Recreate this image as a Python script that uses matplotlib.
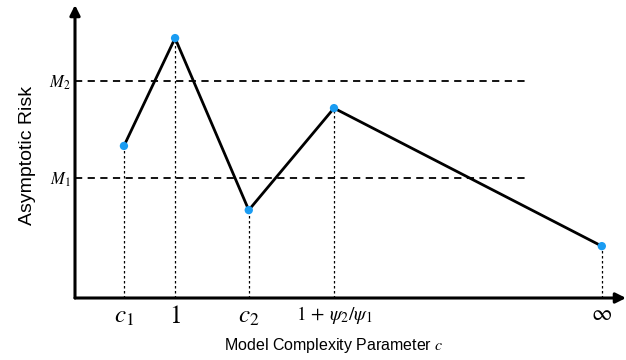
import matplotlib
matplotlib.use("Agg")
import matplotlib.pyplot as plt

plt.rcParams['mathtext.fontset'] = 'stix'

# key points along the risk curve
point_x = [0.89, 1.82, 3.16, 4.71, 9.58]
point_y = [5.19, 8.87, 3.00, 6.48, 1.77]
tick_labels = [r'$c_1$', r'$1$', r'$c_2$', r'$1\,+\,\psi_2/\psi_1$', r'$\infty$']
tick_sizes = [18, 18, 18, 14, 16]

# horizontal reference levels
level_y = [4.10, 7.41]
level_labels = [r'$M_1$', r'$M_2$']
level_end = 8.18

x_max = 10.02
y_max = 10.0

fig = plt.figure(figsize=(6.26, 3.6), dpi=100)
ax = fig.add_axes([75 / 626, 62 / 360, 551 / 626, 293 / 360])
ax.set_xlim(0, x_max)
ax.set_ylim(0, y_max)
for s in ax.spines.values():
    s.set_visible(False)

# axes with arrow heads
arrow = dict(arrowstyle='-|>,head_length=0.6,head_width=0.3', lw=2.2, color='black',
             shrinkA=0, shrinkB=0)
ax.annotate('', xy=(x_max, 0), xytext=(0, 0), arrowprops=arrow, annotation_clip=False)
ax.annotate('', xy=(0, y_max), xytext=(0, 0), arrowprops=arrow, annotation_clip=False)

for y in level_y:
    ax.plot([0, level_end], [y, y], color='black', lw=1.3, ls=(0, (4, 3)))

for x, y in zip(point_x, point_y):
    ax.plot([x, x], [0, y], color='black', lw=0.9, ls=(0, (2, 2)))

ax.plot(point_x, point_y, color='black', lw=2, zorder=3)
ax.scatter(point_x, point_y, s=36, color='#1a9cf2', zorder=4, edgecolors='none')

ax.set_xticks(point_x)
ax.set_xticklabels(tick_labels)
for lab, fs in zip(ax.get_xticklabels(), tick_sizes):
    lab.set_fontsize(fs)
ax.set_yticks(level_y)
ax.set_yticklabels(level_labels, fontsize=12)
ax.tick_params(length=0, pad=4)
ax.tick_params(axis='y', pad=3)

ax.set_xlabel(r'Model Complexity Parameter $c$', fontsize=11.5, family='Liberation Sans')
ax.xaxis.set_label_coords(0.47, -0.13)
ax.set_ylabel('Asymptotic Risk', fontsize=14, family='Liberation Sans')
ax.yaxis.set_label_coords(-0.07, 0.485)

fig.savefig('out.png', dpi=100)
